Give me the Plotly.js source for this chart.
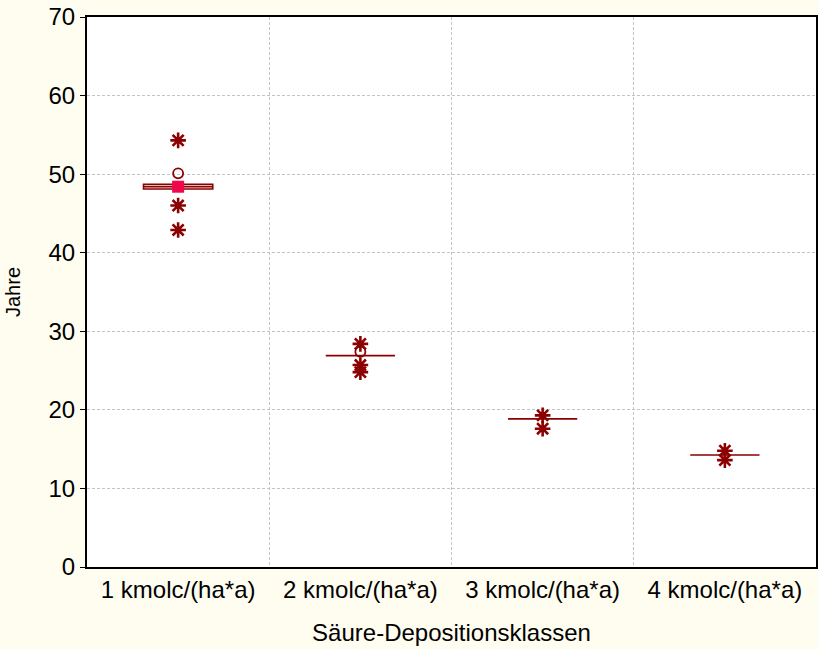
<!DOCTYPE html>
<html>
<head>
<meta charset="utf-8">
<script src="https://cdn.plot.ly/plotly-3.0.1.min.js"></script>
<style>html,body{margin:0;padding:0;background:#FEFDF0;}</style>
</head>
<body>
<div id="chart" style="width:818px;height:649px;"></div>
<script>
// Categories
const categories = ["1 kmolc/(ha*a)", "2 kmolc/(ha*a)", "3 kmolc/(ha*a)", "4 kmolc/(ha*a)"];
// Box statistics (years)
const q1Values     = [48.1, 26.9, 18.85, 14.25];
const medianValues = [48.4, 26.9, 18.85, 14.25];
const q3Values     = [48.7, 26.9, 18.85, 14.25];
// Median marker shown (group 1)
const medianMarkerCats = ["1 kmolc/(ha*a)"];
const medianMarkerVals = [48.4];
// Outliers (circles)
const outlierCats = ["1 kmolc/(ha*a)", "2 kmolc/(ha*a)"];
const outlierVals = [50.1, 27.4];
// Extremes (asterisks)
const extremeCats = ["1 kmolc/(ha*a)", "1 kmolc/(ha*a)", "1 kmolc/(ha*a)",
                     "2 kmolc/(ha*a)", "2 kmolc/(ha*a)", "2 kmolc/(ha*a)",
                     "3 kmolc/(ha*a)", "3 kmolc/(ha*a)",
                     "4 kmolc/(ha*a)", "4 kmolc/(ha*a)"];
const extremeVals = [54.3, 46.0, 42.9,
                     28.4, 25.7, 24.8,
                     19.3, 17.6,
                     14.8, 13.6];
const yTicks = [0, 10, 20, 30, 40, 50, 60, 70];

const dark = "#8B0000";
const traces = [
  {
    type: "box",
    x: categories,
    q1: q1Values,
    median: medianValues,
    q3: q3Values,
    lowerfence: q1Values,
    upperfence: q3Values,
    boxpoints: false,
    width: 0.38,
    whiskerwidth: 0,
    fillcolor: "#FDF3F3",
    line: {color: dark, width: 1.6},
    hoverinfo: "skip",
    showlegend: false
  },
  {
    type: "scatter", mode: "markers",
    x: extremeCats, y: extremeVals,
    marker: {symbol: "asterisk-open", size: 13, color: dark, line: {color: dark, width: 2.6}},
    showlegend: false
  },
  {
    type: "scatter", mode: "markers",
    x: outlierCats, y: outlierVals,
    marker: {symbol: "circle-open", size: 10, color: dark, line: {color: dark, width: 1.8}},
    showlegend: false
  },
  {
    type: "scatter", mode: "markers",
    x: medianMarkerCats, y: medianMarkerVals,
    marker: {symbol: "square", size: 12, color: "#F0064A", line: {width: 0}},
    showlegend: false
  }
];

const layout = {
  width: 818, height: 649,
  margin: {l: 87, r: 2, t: 17, b: 82},
  paper_bgcolor: "#FEFDF0",
  plot_bgcolor: "#FFFFFF",
  font: {family: "'Liberation Sans', Arial, sans-serif", color: "#000", size: 24},
  xaxis: {
    type: "category",
    categoryarray: categories,
    tickson: "boundaries",
    showgrid: true,
    gridcolor: "#C4C4C4",
    griddash: "3px,2px",
    gridwidth: 1,
    showline: true, linecolor: "#000", linewidth: 2, mirror: true,
    ticks: "",
    tickfont: {size: 24},
    title: {text: "Säure-Depositionsklassen", font: {size: 24}, standoff: 22},
    range: [-0.5, 3.5]
  },
  yaxis: {
    range: [0, 70],
    tickvals: yTicks,
    showgrid: true,
    gridcolor: "#C4C4C4",
    griddash: "3px,2px",
    gridwidth: 1,
    zeroline: false,
    showline: true, linecolor: "#000", linewidth: 2, mirror: true,
    ticks: "outside", ticklen: 5, tickcolor: "#000",
    tickfont: {size: 24},
    title: {text: "Jahre", font: {size: 20}, standoff: 22}
  }
};

Plotly.newPlot("chart", traces, layout, {displayModeBar: false, staticPlot: true});
</script>
</body>
</html>
